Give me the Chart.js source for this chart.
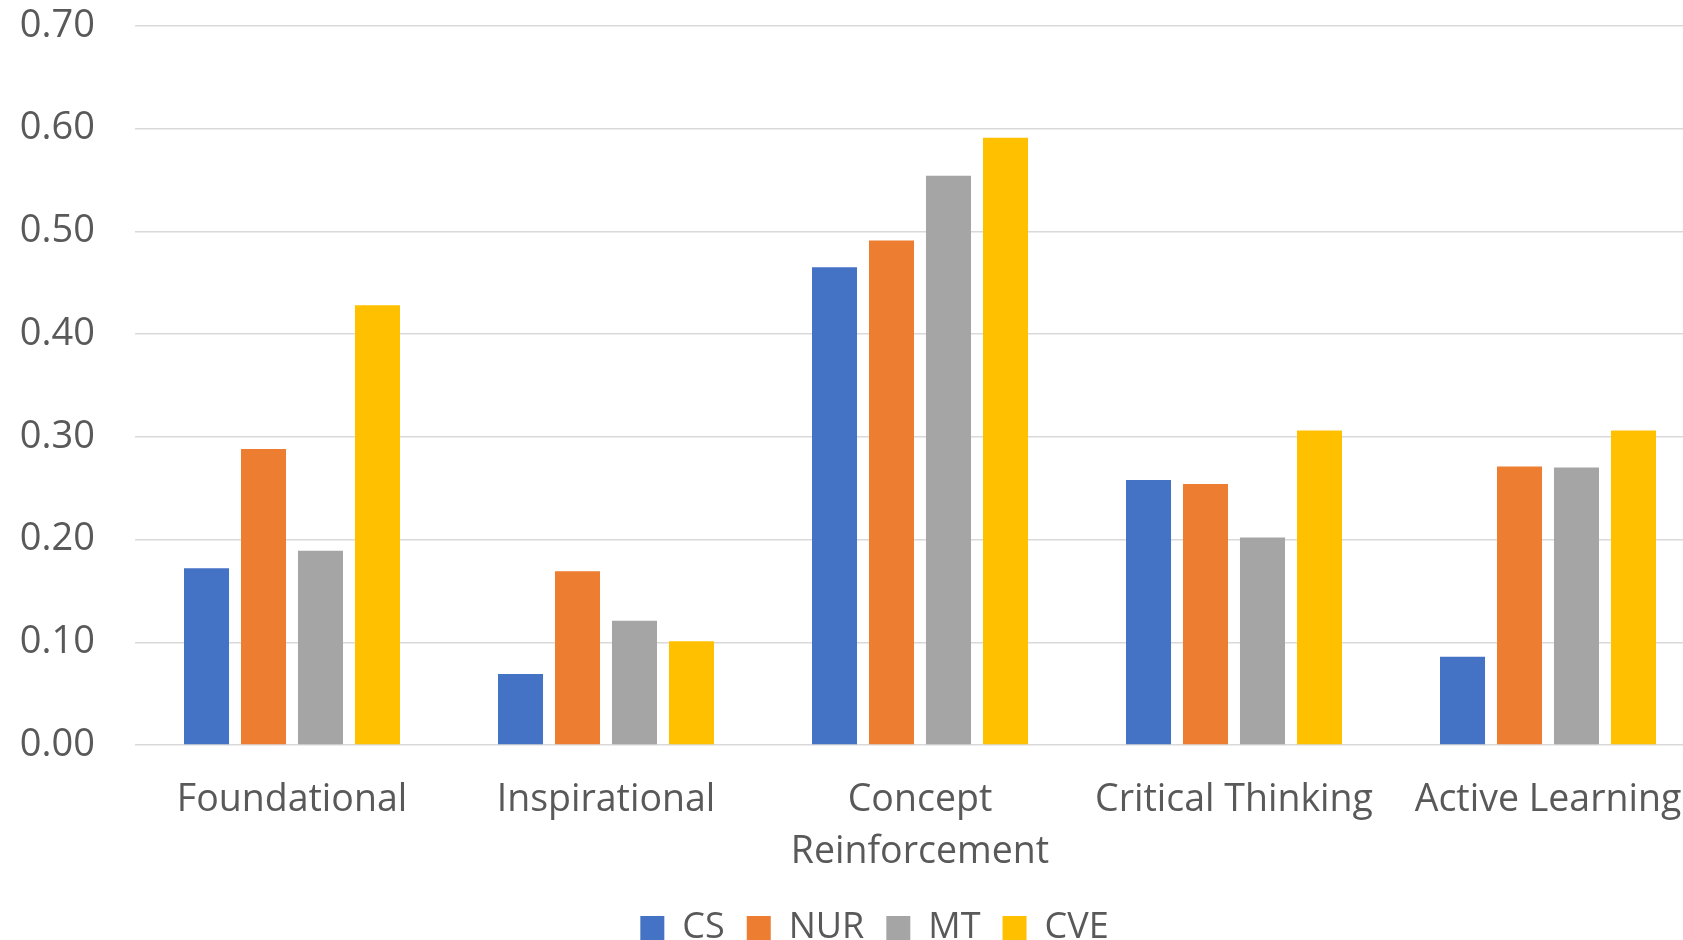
<!DOCTYPE html>
<html>
<head>
<meta charset="utf-8">
<script src="https://cdn.jsdelivr.net/npm/chart.js@4/dist/chart.umd.min.js"></script>
<style>
  html, body { margin: 0; padding: 0; background: #ffffff; overflow: hidden; }
  #wrap { position: absolute; left: 0; top: -37px; width: 1749px; height: 993px; }
</style>
</head>
<body>
<div id="wrap"><canvas id="c"></canvas></div>
<script>
const categories = ['Foundational', 'Inspirational', ['Concept', 'Reinforcement'], 'Critical Thinking', 'Active Learning'];
const seriesNames = ['CS', 'NUR', 'MT', 'CVE'];
const csValues  = [0.172, 0.069, 0.465, 0.258, 0.086];
const nurValues = [0.288, 0.169, 0.491, 0.254, 0.271];
const mtValues  = [0.189, 0.121, 0.554, 0.202, 0.270];
const cveValues = [0.428, 0.101, 0.591, 0.306, 0.306];
const yTicks = [0.00, 0.10, 0.20, 0.30, 0.40, 0.50, 0.60, 0.70];

const colors = ['#4472C4', '#ED7D31', '#A5A5A5', '#FFC000'];
const textColor = '#595959';
const FONT = "'Open Sans', 'Noto Sans', sans-serif";

const allValues = [csValues, nurValues, mtValues, cveValues];
const datasets = seriesNames.map((name, i) => ({
  label: name,
  data: allValues[i],
  backgroundColor: colors[i],
  borderWidth: 0,
  barPercentage: 0.79,
  categoryPercentage: 0.726
}));

new Chart(document.getElementById('c'), {
  type: 'bar',
  data: { labels: categories, datasets },
  options: {
    responsive: true,
    maintainAspectRatio: false,
    animation: false,
    layout: { padding: 0 },
    plugins: {
      tooltip: { enabled: false },
      legend: {
        position: 'bottom',
        labels: {
          color: textColor,
          font: { family: FONT, size: 36 },
          boxWidth: 24,
          boxHeight: 24,
          padding: 22
        }
      }
    },
    scales: {
      x: {
        afterFit: (s) => { s.height = 143; },
        grid: { display: false, drawTicks: false },
        border: { display: false },
        ticks: {
          color: textColor,
          font: { family: FONT, size: 37.5, lineHeight: 1.4 },
          padding: 29,
          maxRotation: 0,
          autoSkip: false
        }
      },
      y: {
        position: 'left',
        min: yTicks[0],
        max: yTicks[yTicks.length - 1],
        afterFit: (s) => { s.width = 135; },
        afterBuildTicks: (s) => { s.ticks = yTicks.map(v => ({ value: v })); },
        grid: { color: '#D9D9D9', lineWidth: 1.5, drawTicks: false },
        border: { display: false },
        ticks: {
          color: textColor,
          font: { family: FONT, size: 38 },
          padding: 40,
          callback: (v) => Number(v).toFixed(2)
        }
      },
      yRight: {
        type: 'linear',
        position: 'right',
        display: true,
        afterFit: (s) => { s.width = 44; },
        grid: { display: false, drawTicks: false },
        border: { display: false },
        ticks: { display: false }
      }
    }
  }
});
</script>
</body>
</html>
